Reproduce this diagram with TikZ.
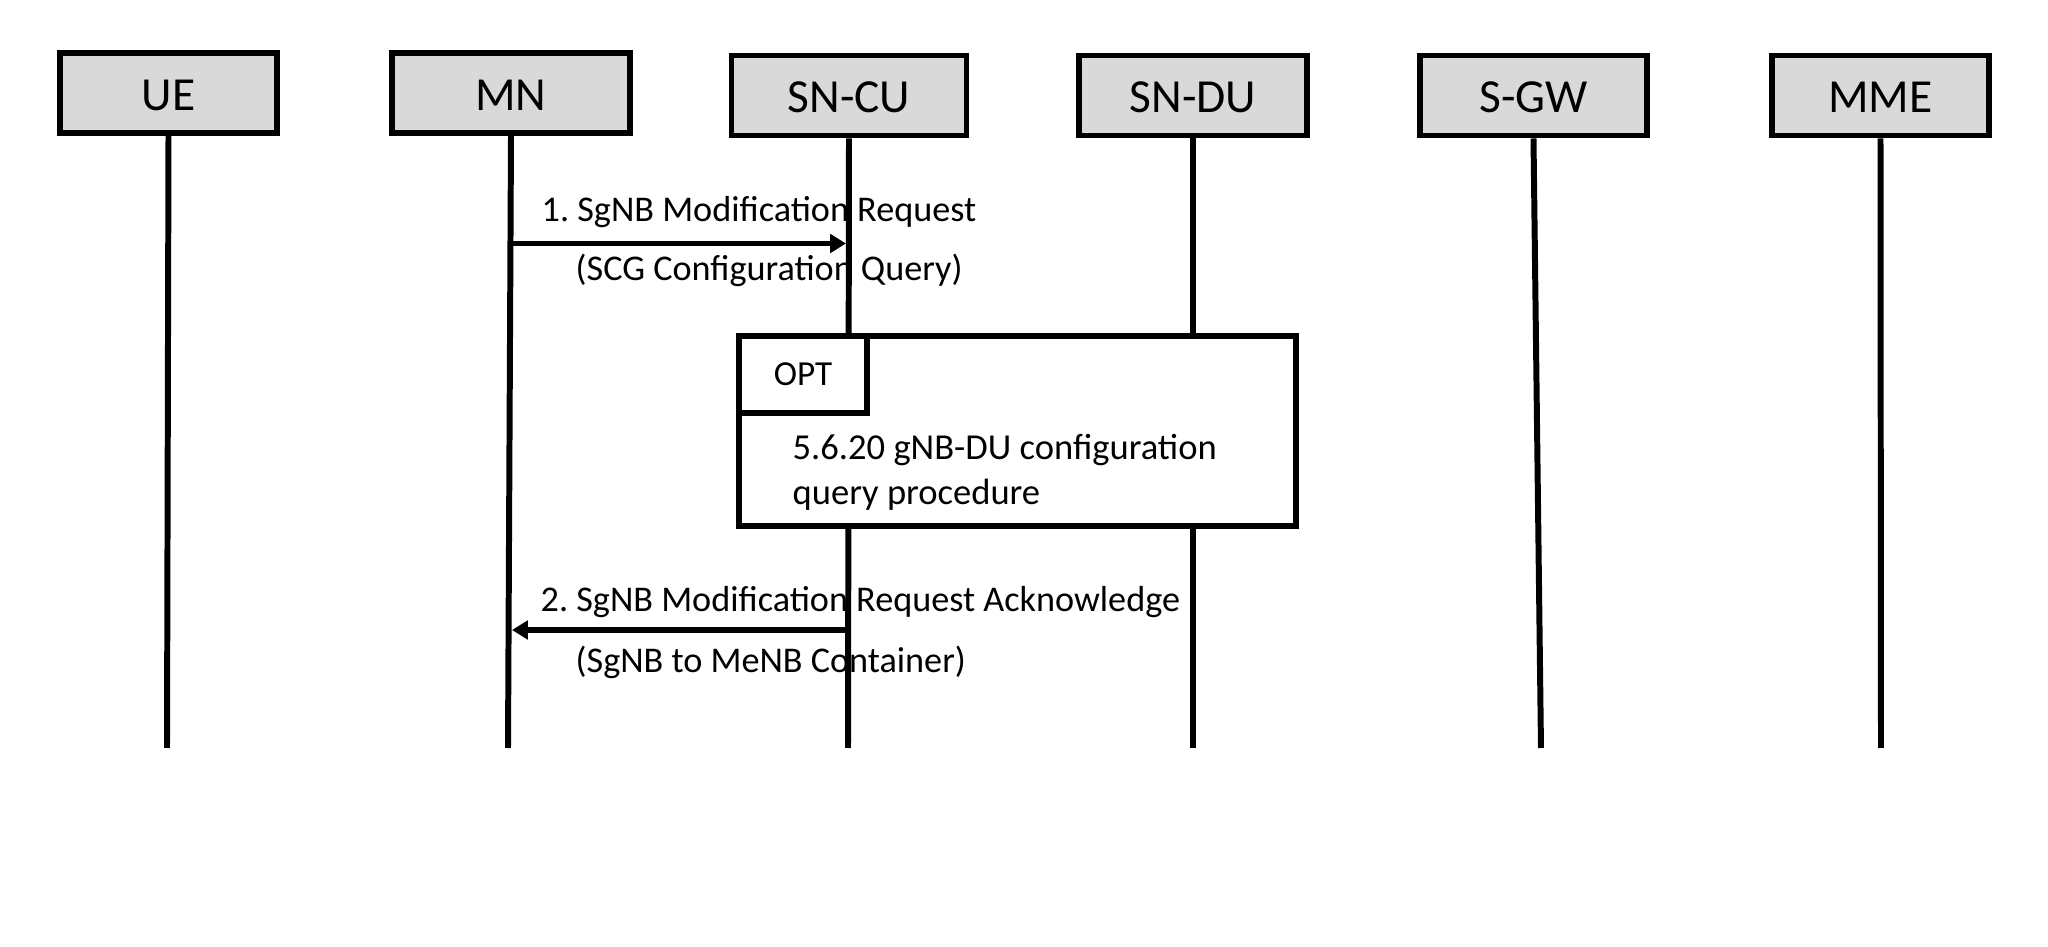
\documentclass[tikz,border=0pt]{standalone}
\usepackage{fontspec}
\setmainfont{Carlito}
\usetikzlibrary{arrows.meta}
\definecolor{headgray}{gray}{0.85}
\frenchspacing

\begin{document}
\begin{tikzpicture}[>={Triangle[length=4.5pt,width=5.2pt]},
    head/.style={draw, line width=1.7pt, fill=headgray, minimum height=0.80cm, inner sep=0pt, text height=0.35cm, text depth=0pt, font=\fontsize{13.5}{16}\selectfont},
    life/.style={line width=1.7pt},
    msg/.style={->, line width=1.7pt},
    lbl/.style={anchor=west, inner sep=0pt, font=\fontsize{10.3}{12}\selectfont}]
    \useasboundingbox (0,0) rectangle (20.48,-9.47);
    % 参与者
    \node[head, minimum width=2.17cm] (UE) at (1.685,-0.93) {UE};
    \node[head, minimum width=2.38cm] (MN) at (5.11,-0.93) {MN};
    \node[head, minimum width=2.35cm] (SNCU) at (8.49,-0.955) {SN-CU};
    \node[head, minimum width=2.28cm] (SNDU) at (11.93,-0.955) {SN-DU};
    \node[head, minimum width=2.27cm] (SGW) at (15.335,-0.955) {S-GW};
    \node[head, minimum width=2.17cm] (MME) at (18.805,-0.955) {MME};
    % 生命线
    \coordinate (UEend) at (1.67,-7.48);
    \coordinate (MNend) at (5.08,-7.48);
    \coordinate (SNCUend) at (8.48,-7.48);
    \coordinate (SNDUend) at (11.93,-7.48);
    \coordinate (SGWend) at (15.41,-7.48);
    \coordinate (MMEend) at (18.81,-7.48);
    \draw[life] (UE.south) -- (UEend);
    \draw[life] (MN.south) -- (MNend);
    \draw[life] (SNCU.south) -- (SNCUend);
    \draw[life] (SNDU.south) -- (SNDUend);
    \draw[life] (SGW.south) -- (SGWend);
    \draw[life] (MME.south) -- (MMEend);
    % 消息 1
    \coordinate (req1) at (5.105,-2.435);
    \coordinate (req2) at (8.46,-2.435);
    \draw[msg] (req1) -- (req2);
    \node[lbl] (reqtop) at (5.41,-2.12) {1. SgNB Modification Request};
    \node[lbl] (reqbot) at (5.75,-2.70) {(SCG Configuration Query)};
    % OPT 框
    \node[draw, line width=1.7pt, fill=white, anchor=north west, minimum width=5.57cm, minimum height=1.90cm] (opt) at (7.36,-3.33) {};
    \node[draw, line width=1.7pt, anchor=north west, minimum width=1.28cm, minimum height=0.77cm, font=\fontsize{10}{12}\selectfont] (opttab) at (opt.north west) {OPT};
    \node[lbl, align=left, font=\fontsize{10.4}{12.8}\selectfont] (optbody) at (7.92,-4.72) {5.6.20 gNB-DU configuration\\query procedure};
    % 消息 2
    \coordinate (ack1) at (8.485,-6.30);
    \coordinate (ack2) at (5.12,-6.30);
    \draw[msg] (ack1) -- (ack2);
    \node[lbl] (acktop) at (5.40,-6.02) {2. SgNB Modification Request Acknowledge};
    \node[lbl] (ackbot) at (5.75,-6.62) {(SgNB to MeNB Container)};
\end{tikzpicture}
\end{document}
